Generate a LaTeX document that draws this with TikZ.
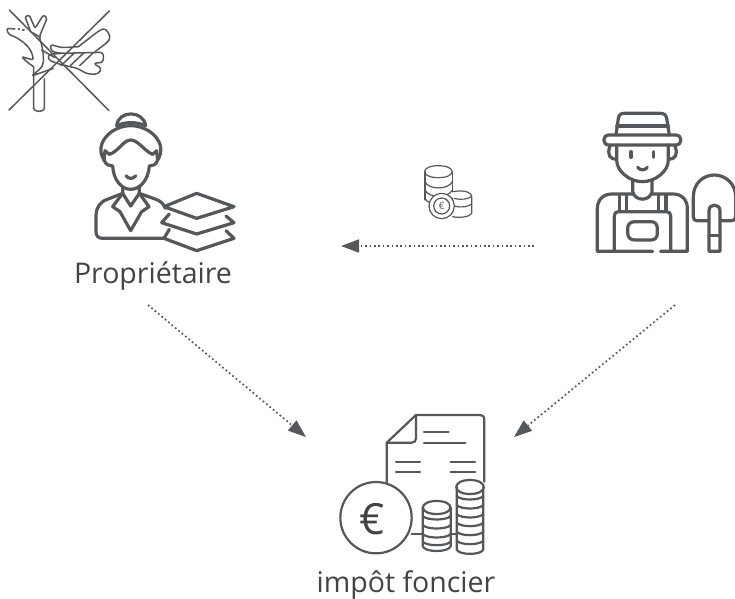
\documentclass[tikz,border=0pt]{standalone}
\usepackage{fontspec}
\setmainfont{Open Sans}
\usetikzlibrary{arrows.meta}
\definecolor{icongray}{HTML}{55585B}
\definecolor{captiongray}{HTML}{414347}
\tikzset{
  thick line/.style={draw=icongray, line width=3.2pt, line cap=round, line join=round},
  mid line/.style={draw=icongray, line width=2.2pt, line cap=round, line join=round},
  thin line/.style={draw=icongray, line width=1.5pt, line cap=round, line join=round},
  coin line/.style={draw=icongray, line width=1.2pt, line cap=round, line join=round},
  flow/.style={draw=icongray, line width=1.7pt, dash pattern=on 1.7pt off 2.7pt, -{Triangle[length=18pt, width=13pt, fill=icongray]}},
  caption/.style={text=captiongray, font=\fontsize{28.5}{30}\selectfont, inner sep=0pt},
}
\begin{document}
\begin{tikzpicture}[x=1pt, y=-1pt]
  \useasboundingbox (0,0) rectangle (735,598);
  % woman
  \begin{scope}[shift={(90,110)}, x=1/3*1pt, y=-1/3*1pt]
    \draw[thick line] (80,47) .. controls (85,0) and (160,0) .. (167,47);
    \draw[thick line] (80,47) .. controls (105,35) and (140,35) .. (167,47);
    \draw[thick line] (42,150) .. controls (10,100) and (65,47) .. (122,47) .. controls (180,47) and (235,100) .. (203,150);
    \draw[thick line] (58,133) .. controls (85,125) and (100,90) .. (122,90) .. controls (145,90) and (165,125) .. (188,133);
    \draw[thick line] (42,150) -- (45,122) -- (58,133);
    \draw[thick line] (203,150) -- (200,122) -- (188,133);
    \draw[thick line] (42,150) .. controls (48,165) and (58,168) .. (68,168) .. controls (70,210) and (95,238) .. (122,238) .. controls (150,238) and (175,210) .. (178,168) .. controls (188,168) and (198,165) .. (203,150);
    \draw[thick line] (108,197) .. controls (115,208) and (130,208) .. (137,197);
    \draw[thick line] (98,232) -- (98,250) -- (52,268) .. controls (30,275) and (18,295) .. (18,315) -- (18,365) .. controls (18,378) and (25,385) .. (38,385) -- (222,385);
    \draw[thick line] (148,232) -- (148,250) -- (198,268) .. controls (212,273) and (222,283) .. (226,295);
    \draw[thick line] (98,250) -- (68,290) -- (90,305) -- (122,362) -- (155,305) -- (177,290) -- (148,250);
    \draw[thick line] (98,250) -- (122,288) -- (148,250);
    \draw[thick line] (320,250) -- (432,290) -- (320,325) -- (222,290) -- cycle;
    \draw[thick line] (238,312) -- (215,338) -- (320,372) -- (432,338) -- (408,318);
    \draw[thick line] (238,358) -- (222,385) -- (320,422) -- (432,385) -- (408,362);
  \end{scope}
  % tree, hand and cross
  \begin{scope}[shift={(0,5)}, x=1/3*1pt, y=-1/3*1pt]
    \draw[thin line] (101,185) -- (101,310) .. controls (101,322) and (133,322) .. (133,310) -- (133,222);
    \draw[thin line, rounded corners=2pt] (45,72) -- (20,70) -- (25,88) .. controls (60,100) and (95,125) .. (100,165) -- (65,155) -- (82,172) -- (101,185);
    \draw[thin line] (55,72) -- (58,72) (68,75) -- (72,75);
    \draw[thin line, rounded corners=2pt] (92,80) -- (75,35) -- (88,30) -- (105,70) -- (130,30) -- (142,38) -- (118,95) .. controls (130,135) and (135,170) .. (122,190) -- (95,213) -- (160,190);
    \draw[thin line] (92,80) -- (118,95);
    \draw[thin line] (125,135) -- (165,158);
    \draw[thin line, rounded corners=3pt] (235,125) -- (300,75) .. controls (320,68) and (335,95) .. (322,112) -- (285,140);
    \draw[thin line, rounded corners=3pt] (235,125) -- (185,128) -- (150,118) -- (155,140) -- (185,145) -- (310,142) -- (310,172) -- (280,175) -- (305,190) -- (295,207) -- (262,207) -- (232,190) -- (180,178) -- (145,165) -- (145,148) -- (185,145);
    \foreach \x in {0, 28, 56}
    \draw[thin line] (183+\x,182) -- (225+\x,142);
    \draw[thin line] (28,15) -- (327,317);
    \draw[thin line] (27,315) -- (328,18);
  \end{scope}
  % farmer
  \begin{scope}[shift={(560,90)}, x=1/3*1pt, y=-1/3*1pt]
    \draw[thick line] (168,135) -- (175,85) .. controls (177,75) and (182,70) .. (192,70) -- (302,70) .. controls (312,70) and (318,75) .. (320,85) -- (328,135);
    \draw[thick line] (170,108) -- (325,108);
    \draw[thick line] (147,135) -- (347,135) .. controls (368,135) and (368,165) .. (347,165) -- (147,165) .. controls (126,165) and (126,135) .. (147,135) -- cycle;
    \draw[thick line] (170,165) -- (170,210) .. controls (170,245) and (210,275) .. (247,275) .. controls (285,275) and (325,245) .. (325,210) -- (325,165);
    \draw[thick line] (150,168) .. controls (140,195) and (150,208) .. (170,208);
    \draw[thick line] (345,168) .. controls (355,195) and (345,208) .. (325,208);
    \draw[thick line] (213,185) -- (213,202);
    \draw[thick line] (281,185) -- (281,202);
    \draw[thick line] (233,232) .. controls (240,242) and (255,242) .. (262,232);
    \draw[thick line] (218,272) -- (218,305) .. controls (225,335) and (270,335) .. (276,305) -- (276,272);
    \draw[thick line] (278,484) -- (112,484) -- (112,355) .. controls (112,330) and (130,312) .. (155,312) -- (218,312);
    \draw[thick line] (276,312) -- (340,312) .. controls (365,312) and (382,330) .. (382,355) -- (382,484) -- (302,484);
    \draw[thick line] (163,484) -- (163,378) .. controls (163,370) and (167,365) .. (175,365) -- (320,365) .. controls (328,365) and (332,370) .. (332,378) -- (332,484);
    \foreach \x in {178, 200, 296, 318}
    \draw[thick line] (\x,316) -- (\x,362);
    \draw[thick line] (225,395) -- (272,395) .. controls (285,395) and (292,402) .. (292,415) -- (292,430) .. controls (292,443) and (285,450) .. (272,450) -- (225,450) .. controls (212,450) and (203,443) .. (203,430) -- (203,415) .. controls (203,402) and (212,395) .. (225,395) -- cycle;
    \draw[thick line] (445,392) -- (410,392) .. controls (403,392) and (400,388) .. (400,380) -- (400,320) .. controls (400,280) and (430,255) .. (463,255) .. controls (495,255) and (527,280) .. (527,320) -- (527,380) .. controls (527,388) and (523,392) .. (515,392) -- (482,392);
    \draw[thick line] (447,484) -- (447,362) .. controls (447,340) and (480,340) .. (480,362) -- (480,484) -- cycle;
    \draw[thick line] (447,436) -- (480,436);
  \end{scope}
  % coins
  \begin{scope}[shift={(330,150)}, x=1/3*1pt, y=-1/3*1pt]
    \draw[coin line] (325,47) .. controls (380,47) and (380,83) .. (325,83) .. controls (270,83) and (270,47) .. (325,47) -- cycle;
    \draw[coin line] (285,65) -- (285,150) (367,65) -- (367,125);
    \foreach \y in {30, 55, 80}
    \draw[coin line] (285,65+\y) .. controls (295,90+\y) and (355,90+\y) .. (367,65+\y);
    \draw[coin line] (367,125) .. controls (410,118) and (425,130) .. (425,140) -- (425,190) .. controls (420,200) and (390,205) .. (368,200);
    \foreach \y in {145, 168}
    \draw[coin line] (372,\y) .. controls (395,\y+6) and (415,\y+2) .. (425,\y-6);
    \draw[coin line, fill=white] (335,168) circle[radius=38];
    \draw[coin line] (335,168) circle[radius=24];
    \node[text=icongray, font=\fontsize{10}{10}\selectfont, inner sep=0pt] (smalleuro) at (335,168) {€};
  \end{scope}
  % tax sheet
  \begin{scope}[shift={(320,390)}, x=1/3*1pt, y=-1/3*1pt]
    \draw[mid line] (200,278) -- (200,158) -- (288,75) -- (478,75) .. controls (488,75) and (493,80) .. (493,90) -- (493,275);
    \draw[mid line] (288,75) -- (288,145) .. controls (288,153) and (283,158) .. (275,158) -- (200,158);
    \draw[mid line] (312,127) -- (386,127);
    \draw[mid line] (312,160) -- (436,160);
    \foreach \y in {216, 245} {
      \draw[mid line] (228,\y) -- (300,\y);
      \draw[mid line] (392,\y) -- (465,\y);
    }
    \draw[mid line] (168,383) circle[radius=107];
    \node[text=captiongray, font=\fontsize{43}{43}\selectfont, inner sep=0pt] (bigeuro) at (158,387) {€};
    \draw[mid line] (275,432) -- (308,432);
    \draw[mid line] (392,432) -- (410,432);
    \draw[mid line] (350,333) .. controls (405,333) and (405,372) .. (350,372) .. controls (295,372) and (295,333) .. (350,333) -- cycle;
    \draw[mid line] (308,352) -- (308,468) .. controls (312,488) and (388,488) .. (392,468) -- (392,352);
    \foreach \y in {378, 405, 432, 455}
    \draw[mid line] (308,\y) .. controls (320,\y+14) and (380,\y+14) .. (392,\y);
    \draw[mid line] (450,270) .. controls (505,270) and (505,312) .. (450,312) .. controls (395,312) and (395,270) .. (450,270) -- cycle;
    \draw[mid line] (410,292) -- (410,478) .. controls (414,496) and (486,496) .. (490,478) -- (490,292);
    \foreach \y in {318, 345, 372, 398, 425, 452}
    \draw[mid line] (410,\y) .. controls (422,\y+14) and (478,\y+14) .. (490,\y);
  \end{scope}
  % captions
  \node[caption] (owner) at (153,276) {Propriétaire};
  \node[caption] (tax) at (406,585) {impôt foncier};
  % flows
  \coordinate (payfrom) at (534,246);
  \coordinate (payto) at (341,246);
  \coordinate (ownerout) at (148,305);
  \coordinate (taxleft) at (306,437);
  \coordinate (farmerout) at (675,305);
  \coordinate (taxright) at (514,437);
  \draw[flow] (payfrom) -- (payto);
  \draw[flow] (ownerout) -- (taxleft);
  \draw[flow] (farmerout) -- (taxright);
\end{tikzpicture}
\end{document}
